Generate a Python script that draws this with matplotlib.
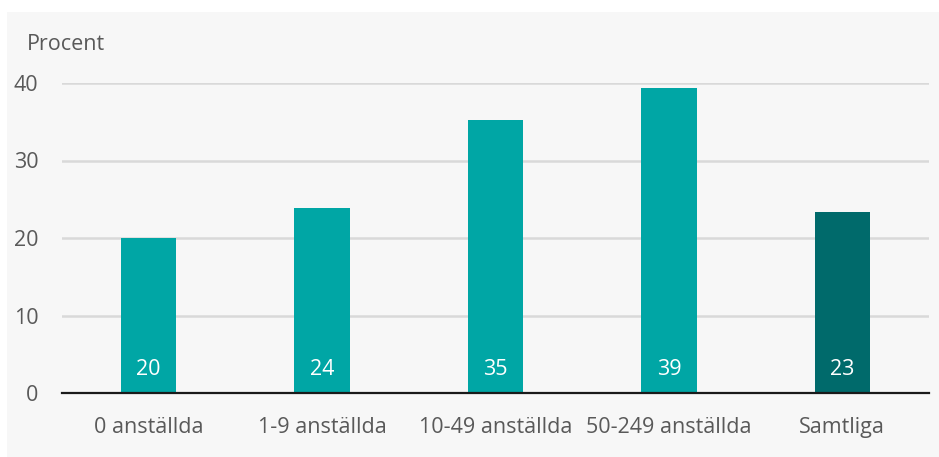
import matplotlib

matplotlib.use("Agg")
import matplotlib.pyplot as plt
from matplotlib.patches import Rectangle

plt.rcParams["font.family"] = ["Open Sans", "DejaVu Sans"]

categories = ["0 anställda", "1-9 anställda", "10-49 anställda", "50-249 anställda", "Samtliga"]
values = [20.0, 23.9, 35.2, 39.3, 23.4]
labels = ["20", "24", "35", "39", "23"]
colors = ["#00A6A5", "#00A6A5", "#00A6A5", "#00A6A5", "#006A6B"]
yticks = [0, 10, 20, 30, 40]

TEXT = "#595959"
FS = 15.5

fig = plt.figure(figsize=(9.39, 4.57), dpi=100)
fig.patch.set_facecolor("white")
fig.patches.append(Rectangle((7 / 939, 0), 1 - 7 / 939, 1 - 12 / 457,
                             transform=fig.transFigure, facecolor="#F7F7F7",
                             edgecolor="none", zorder=-10))

ax = fig.add_axes([62 / 939, 64 / 457, 867 / 939, 310 / 457])
ax.set_facecolor("none")

x = range(len(categories))
ax.bar(x, values, width=0.32, color=colors, zorder=3)
for i, (v, lab) in enumerate(zip(values, labels)):
    ax.text(i, 3.0, lab, ha="center", va="center", color="white", fontsize=FS, zorder=4)

ax.set_xlim(-0.5, len(categories) - 0.5)
ax.set_ylim(0, 40)
ax.set_yticks(yticks)
ax.set_xticks(list(x))
ax.set_xticklabels(categories)
ax.tick_params(axis="both", length=0, labelsize=FS, labelcolor=TEXT)
ax.tick_params(axis="y", pad=17)
ax.tick_params(axis="x", pad=17)
ax.grid(axis="y", color="#D9D9D9", linewidth=1.8, zorder=1)
for s in ["top", "right", "left"]:
    ax.spines[s].set_visible(False)
ax.spines["bottom"].set_color("#1a1a1a")
ax.spines["bottom"].set_linewidth(1.6)
ax.spines["bottom"].set_zorder(5)

fig.text(27 / 939, 1 - 45 / 457, "Procent", ha="left", va="center", color=TEXT, fontsize=FS)

fig.savefig("out.png", dpi=100)
